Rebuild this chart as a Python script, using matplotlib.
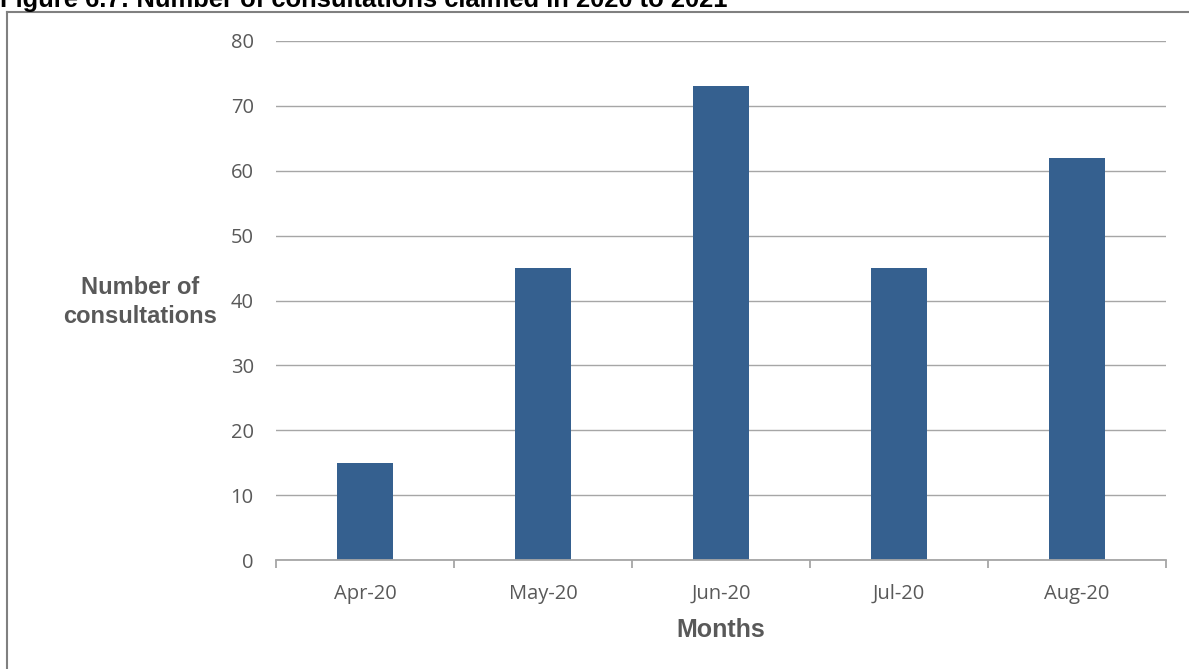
import matplotlib
matplotlib.use("Agg")
import matplotlib.pyplot as plt
from matplotlib.lines import Line2D

months = ["Apr-20", "May-20", "Jun-20", "Jul-20", "Aug-20"]
consultations = [15, 45, 73, 45, 62]
y_ticks = [0, 10, 20, 30, 40, 50, 60, 70, 80]

W, H = 1189, 669
fig = plt.figure(figsize=(W / 100, H / 100), dpi=100)
ax = fig.add_axes([276 / W, 1 - 560 / H, (1166 - 276) / W, (560 - 41) / H])

bar_color = "#35608F"
grid_color = "#A6A6A6"
text_color = "#595959"

x = list(range(len(months)))
ax.bar(x, consultations, width=0.315, color=bar_color, zorder=3)
ax.set_xlim(-0.5, len(months) - 0.5)
ax.set_ylim(0, 80)
ax.set_yticks(y_ticks)
ax.yaxis.grid(True, color=grid_color, linewidth=1, zorder=0)
for s in ["top", "right", "left"]:
    ax.spines[s].set_visible(False)
ax.spines["bottom"].set_color(grid_color)
ax.spines["bottom"].set_linewidth(1.3)
ax.spines["bottom"].set_zorder(4)

ax.set_xticks(x)
ax.set_xticklabels(months, fontsize=14.5, color=text_color, family="Open Sans")
ax.tick_params(axis="x", which="major", length=0, pad=17)
ax.set_xticks([i - 0.5 for i in range(len(months) + 1)], minor=True)
ax.tick_params(axis="x", which="minor", length=6, color=grid_color, width=1.3)
ax.tick_params(axis="y", length=0, pad=16, labelsize=14.5, labelcolor=text_color)
for lab in ax.get_yticklabels():
    lab.set_family("Open Sans")

fig.text(721 / W, 1 - 630 / H, "Months", ha="center", va="center",
         fontsize=18, fontweight="bold", color=text_color, family="Liberation Sans")
fig.text(140 / W, 1 - 302 / H, "Number of\nconsultations", ha="center", va="center",
         fontsize=17, fontweight="bold", color=text_color, family="Liberation Sans",
         linespacing=1.3)

fig.text(0, 1 - 7 / H, "Figure 6.7: Number of consultations claimed in 2020 to 2021",
         ha="left", va="baseline", fontsize=18.4, fontweight="bold", color="black",
         family="Liberation Sans")

border = "#808080"
fig.add_artist(Line2D([6.5 / W, 6.5 / W], [0, 1 - 12 / H], color=border, lw=1.5,
                      transform=fig.transFigure))
fig.add_artist(Line2D([6.5 / W, 1], [1 - 12 / H, 1 - 12 / H], color=border, lw=1.5,
                      transform=fig.transFigure))

fig.savefig("out.png", dpi=100)
